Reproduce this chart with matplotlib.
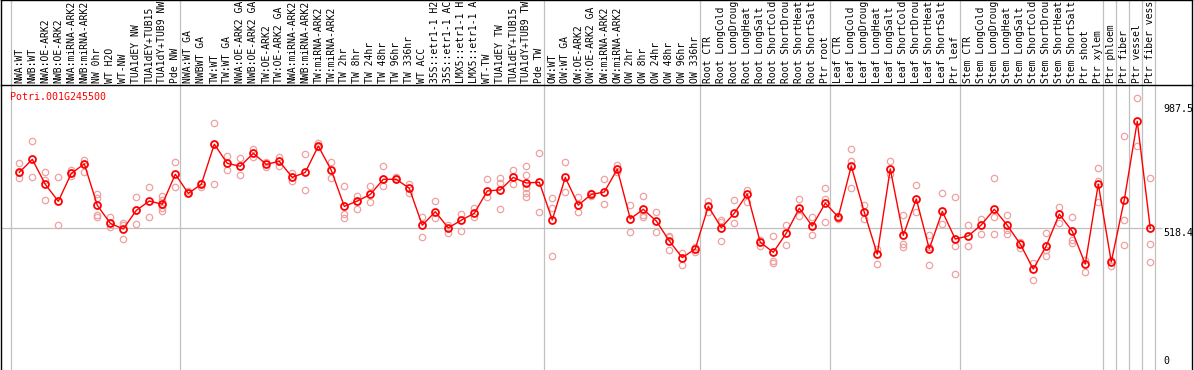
import numpy as np
import matplotlib
matplotlib.use('Agg')
import matplotlib.pyplot as plt

GENE = 'Potri.001G245500'

# labels as far as the header shows them (cut at 14 characters)
samples = [
    'NWA:WT', 'NWB:WT', 'NWA:OE-ARK2', 'NWB:OE-ARK2', 'NWA:miRNA-ARK2', 'NWB:miRNA-ARK2',
    'NW 0hr', 'WT H2O', 'WT-NW', 'TUA1dEY NW', 'TUA1dEY+TUB15', 'TUA1dY+TUB9 NW', 'Pde NW',
    'NWA:WT GA', 'NWBWT GA', 'TW:WT', 'TW:WT GA', 'NWA:OE-ARK2 GA', 'NWB:OE-ARK2 GA',
    'TW:OE-ARK2', 'TW:OE-ARK2 GA', 'NWA:miRNA-ARK2', 'NWB:miRNA-ARK2', 'TW:miRNA-ARK2',
    'TW:miRNA-ARK2', 'TW 2hr', 'TW 8hr', 'TW 24hr', 'TW 48hr', 'TW 96hr', 'TW 336hr', 'WT ACC',
    '35S::etr1-1 H2', '35S::etr1-1 AC', 'LMX5::etr1-1 H', 'LMX5::etr1-1 A', 'WT-TW',
    'TUA1dEY TW', 'TUA1dEY+TUB15', 'TUA1dY+TUB9 TW', 'Pde TW',
    'OW:WT', 'OW:WT GA', 'OW:OE-ARK2', 'OW:OE-ARK2 GA', 'OW:miRNA-ARK2', 'OW:miRNA-ARK2',
    'OW 2hr', 'OW 8hr', 'OW 24hr', 'OW 48hr', 'OW 96hr', 'OW 336hr',
    'Root CTR', 'Root LongCold', 'Root LongDroug', 'Root LongHeat', 'Root LongSalt',
    'Root ShortCold', 'Root ShortDrou', 'Root ShortHeat', 'Root ShortSalt', 'Ptr root',
    'Leaf CTR', 'Leaf LongCold', 'Leaf LongDroug', 'Leaf LongHeat', 'Leaf LongSalt',
    'Leaf ShortCold', 'Leaf ShortDrou', 'Leaf ShortHeat', 'Leaf ShortSalt', 'Ptr leaf',
    'Stem CTR', 'Stem LongCold', 'Stem LongDroug', 'Stem LongHeat', 'Stem LongSalt',
    'Stem ShortCold', 'Stem ShortDrou', 'Stem ShortHeat', 'Stem ShortSalt', 'Ptr shoot',
    'Ptr xylem', 'Ptr phloem', 'Ptr fiber', 'Ptr vessel', 'Ptr fiber vess',
]

# number of samples between the grey separators
group_sizes = [13, 28, 12, 10, 10, 11, 1, 1, 1, 1]

means = [729, 778, 684, 620, 725, 761, 605, 537, 516, 586, 621, 609, 722,
         650, 684, 835, 763, 752, 801, 759, 771, 710, 729, 828, 737, 601, 621, 646,
         703, 703, 669, 530, 581, 520, 549, 575, 659, 663, 710, 689, 692,
         550, 710, 606, 646, 655, 741, 554, 590, 546, 471, 408, 441,
         601, 521, 575, 648, 466, 428, 500, 594, 527, 613,
         561, 753, 579, 421, 742, 492, 629, 441, 582, 478,
         490, 531, 590, 530, 459, 365, 452, 572, 507, 384, 685,
         392, 625, 921, 518]

replicates = [
    [763, 726, 709], [847, 713], [729, 700, 625], [713, 530], [738, 726, 715],
    [776, 761, 732], [648, 631, 569, 562], [560, 537, 522], [537, 531, 477], [635, 533],
    [675, 560], [640, 625, 606, 594, 585], [767, 673],
    [659, 650], [688, 675], [914, 835, 684], [791, 737], [784, 718], [816, 788],
    [769, 751], [788, 753], [728, 698], [798, 663], [838, 823], [768, 707],
    [677, 572, 559], [640, 621, 590], [677, 616], [753, 703, 678], [710, 703],
    [685, 653], [562, 485], [620, 556], [532, 502], [571, 508], [594, 562],
    [704, 635], [707, 688, 591], [738, 684], [753, 719, 669, 650, 635], [801, 580],
    [631, 594, 414], [768, 655], [635, 580], [653, 640], [703, 609], [757, 732],
    [605, 503], [639, 569, 562], [580, 503], [491, 487, 436], [427, 379], [449, 428],
    [621, 579], [550, 544, 470], [625, 540], [663, 619], [475, 453], [490, 397, 389],
    [531, 454], [629, 566], [561, 492], [669, 630, 541],
    [565, 552], [816, 771, 669], [606, 555], [439, 384], [772, 722], [567, 459, 447],
    [680, 579], [493, 449, 380], [650, 533], [635, 453, 345],
    [531, 453], [555, 498], [707, 562, 496], [567, 512, 497], [468, 446], [389, 323],
    [500, 437, 414], [600, 540], [561, 475, 464], [399, 355], [744, 698, 616],
    [399, 378], [865, 550, 456], [1008, 830], [707, 458, 390],
]

ref_value = 518.4
top_value = 987.5

W, H = 1194, 370
mono = 'DejaVu Sans Mono'
grey = '#c0c0c0'

fig = plt.figure(figsize=(W / 100, H / 100), dpi=100)
ax = fig.add_axes([1 / W, 0, 1191 / W, 284 / H])
hx = fig.add_axes([1 / W, 285 / H, 1191 / W, 85 / H], sharex=ax)

x = np.arange(len(samples))
ax.set_xlim(-1.408, 90.21)
ax.set_ylim(-15.06, 1054.2)

# separators
ends = np.concatenate([[0], np.cumsum(group_sizes)]) - 1
for e in ends:
    ax.axvline(e + 0.37, color=grey, lw=0.9, zorder=0)
    hx.axvline(e + 0.37, color=grey, lw=0.9, zorder=0)
ax.hlines(ref_value, -1.5, 87.9, color=grey, lw=0.9, zorder=0)

# replicates then means
for i, r in enumerate(replicates):
    ax.plot([i] * len(r), r, 'o', ls='none', mfc='none', mec='#f0a0a0', ms=4.6, mew=0.9, zorder=2)
ax.plot(x, means, '-', color='red', lw=1.0, zorder=3)
ax.plot(x, means, 'o', ls='none', mfc='none', mec='red', ms=5.0, mew=1.3, zorder=4)

ax.text(0.0076, 0.978, GENE, transform=ax.transAxes, color='red', fontsize=7.2,
        family=mono, ha='left', va='top')

xl = 87.98
ax.text(xl, top_value, f'{top_value}', family=mono, fontsize=7.2, ha='left', va='top')
ax.text(xl, ref_value, f'{ref_value}', family=mono, fontsize=7.2, ha='left', va='top')
ax.text(xl, 0, '0', family=mono, fontsize=7.2, ha='left', va='bottom')

for i, s in enumerate(samples):
    hx.text(i, 0.025, s, transform=hx.get_xaxis_transform(), rotation=90,
            ha='center', va='bottom', family=mono, fontsize=7.0)

for a in (ax, hx):
    a.set_xticks([])
    a.set_yticks([])
    for sp in a.spines.values():
        sp.set_color('black')
        sp.set_linewidth(1.0)
ax.spines['top'].set_visible(False)
ax.spines['bottom'].set_visible(False)
hx.set_ylim(0, 1)

fig.savefig('out.png', dpi=100)
